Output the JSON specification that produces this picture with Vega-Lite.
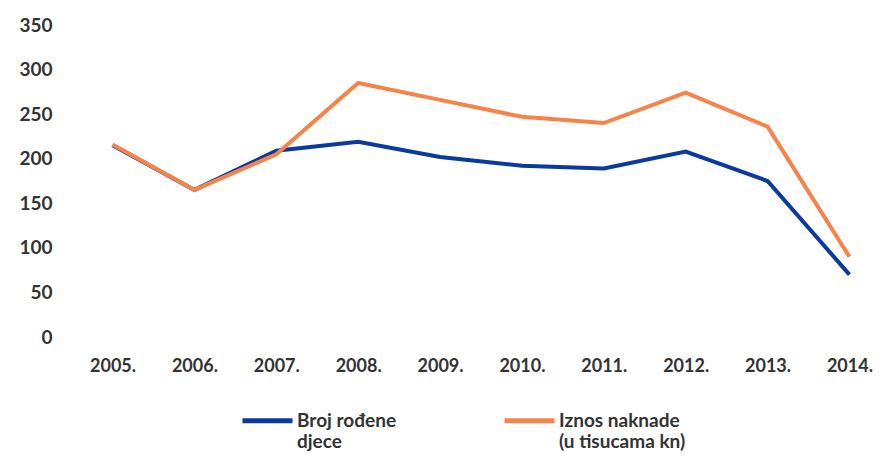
{
  "$schema": "https://vega.github.io/schema/vega-lite/v6.json",
  "width": 786,
  "height": 312,
  "autosize": {"type": "none"},
  "padding": {"left": 88, "top": 25, "right": 5, "bottom": 124},
  "background": "white",
  "config": {
    "view": {"stroke": null},
    "font": "Lato",
    "axis": {"labelFont": "Lato", "labelFontWeight": "bold", "labelColor": "#333333", "labelFontSize": 18}
  },
  "data": {
    "values": [
      {"godina": "2005.", "serija": "Broj rođene djece", "v": 215},
      {"godina": "2006.", "serija": "Broj rođene djece", "v": 165},
      {"godina": "2007.", "serija": "Broj rođene djece", "v": 209},
      {"godina": "2008.", "serija": "Broj rođene djece", "v": 219},
      {"godina": "2009.", "serija": "Broj rođene djece", "v": 202},
      {"godina": "2010.", "serija": "Broj rođene djece", "v": 192},
      {"godina": "2011.", "serija": "Broj rođene djece", "v": 189},
      {"godina": "2012.", "serija": "Broj rođene djece", "v": 208},
      {"godina": "2013.", "serija": "Broj rođene djece", "v": 175},
      {"godina": "2014.", "serija": "Broj rođene djece", "v": 70},
      {"godina": "2005.", "serija": "Iznos naknade (u tisucama kn)", "v": 216},
      {"godina": "2006.", "serija": "Iznos naknade (u tisucama kn)", "v": 165},
      {"godina": "2007.", "serija": "Iznos naknade (u tisucama kn)", "v": 205},
      {"godina": "2008.", "serija": "Iznos naknade (u tisucama kn)", "v": 285},
      {"godina": "2009.", "serija": "Iznos naknade (u tisucama kn)", "v": 266},
      {"godina": "2010.", "serija": "Iznos naknade (u tisucama kn)", "v": 247},
      {"godina": "2011.", "serija": "Iznos naknade (u tisucama kn)", "v": 240},
      {"godina": "2012.", "serija": "Iznos naknade (u tisucama kn)", "v": 274},
      {"godina": "2013.", "serija": "Iznos naknade (u tisucama kn)", "v": 236},
      {"godina": "2014.", "serija": "Iznos naknade (u tisucama kn)", "v": 90}
    ]
  },
  "encoding": {
    "x": {
      "field": "godina", "type": "ordinal",
      "scale": {"type": "point", "padding": 0.3},
      "axis": {"title": null, "labelAngle": 0, "domain": false, "ticks": false, "grid": false, "labelPadding": 20}
    },
    "y": {
      "field": "v", "type": "quantitative",
      "scale": {"domain": [0, 350]},
      "axis": {"title": null, "values": [0, 50, 100, 150, 200, 250, 300, 350], "domain": false, "ticks": false, "grid": false, "labelPadding": 36, "labelFontSize": 19}
    },
    "color": {
      "field": "serija", "type": "nominal",
      "scale": {"domain": ["Broj rođene djece", "Iznos naknade (u tisucama kn)"], "range": ["#0b3a9e", "#f5834a"]},
      "legend": {
        "title": null,
        "orient": "none",
        "legendX": 152,
        "legendY": 368,
        "direction": "horizontal",
        "columns": 2,
        "columnPadding": 97,
        "symbolType": "stroke",
        "symbolSize": 2500,
        "symbolStrokeWidth": 5,
        "labelFont": "Lato",
        "labelFontWeight": "bold",
        "labelFontSize": 19,
        "labelColor": "#333333",
        "labelLimit": 300,
        "labelOffset": 2,
        "labelExpr": "datum.label == 'Broj rođene djece' ? ['Broj rođene', 'djece'] : ['Iznos naknade', '(u tisucama kn)']"
      }
    }
  },
  "layer": [
    {
      "transform": [{"filter": "datum.serija == 'Broj rođene djece'"}],
      "mark": {"type": "line", "strokeWidth": 4}
    },
    {
      "transform": [{"filter": "datum.serija != 'Broj rođene djece'"}],
      "mark": {"type": "line", "strokeWidth": 4}
    }
  ]
}
